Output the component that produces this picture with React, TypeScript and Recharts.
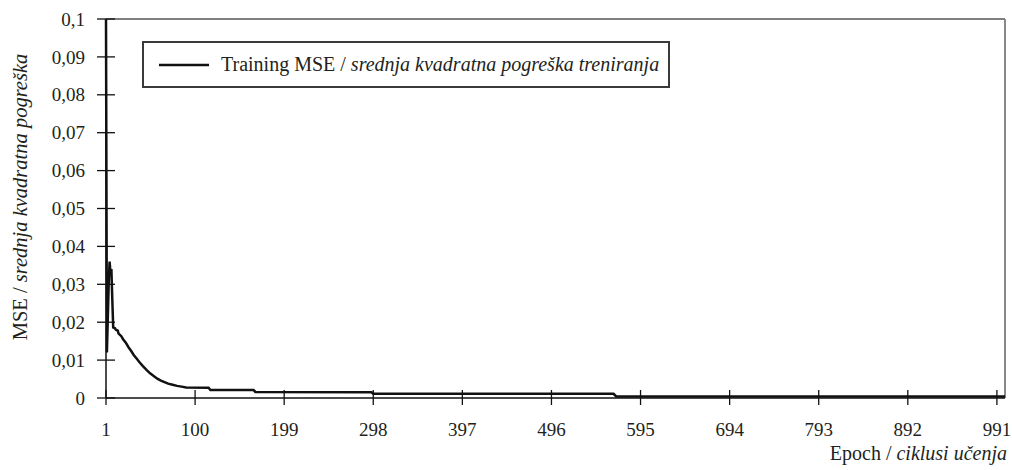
import React from "react";
import { LineChart, Line, XAxis, YAxis, ReferenceLine, Legend } from "recharts";

const epochs = [1, 2, 4, 5, 6, 7, 8, 9, 11, 12, 14, 15, 18, 20, 23, 26, 29, 32, 35, 38, 42, 46, 50, 54, 58, 62, 66, 70, 75, 80, 85, 90, 115, 117, 165, 167, 296, 298, 565, 568, 1000];
const mseValues = [0.1, 0.012, 0.03, 0.036, 0.033, 0.034, 0.026, 0.0186, 0.0184, 0.018, 0.0178, 0.017, 0.0163, 0.0155, 0.0146, 0.0134, 0.0124, 0.0113, 0.0104, 0.0095, 0.0084, 0.0074, 0.0065, 0.0058, 0.0051, 0.0046, 0.0042, 0.0038, 0.0035, 0.0032, 0.003, 0.0028, 0.0027, 0.0021, 0.0021, 0.0016, 0.0015, 0.0011, 0.0011, 0.0004, 0.0004];
const xTicks = [1, 100, 199, 298, 397, 496, 595, 694, 793, 892, 991];
const yTicks = [0, 0.01, 0.02, 0.03, 0.04, 0.05, 0.06, 0.07, 0.08, 0.09, 0.1];
const seriesName = "Training MSE / ";
const seriesNameItalic = "srednja kvadratna pogreška treniranja";
const xTitle = "Epoch / ";
const xTitleItalic = "ciklusi učenja";
const yTitle = "MSE / ";
const yTitleItalic = "srednja kvadratna pogreška";

const data = epochs.map((e, i) => ({ epoch: e, mse: mseValues[i] }));

const FONT = "'Liberation Serif', 'Times New Roman', serif";
const TXT = "#231f20";

const fmtY = (v: number) => String(Math.round(v * 100) / 100).replace(".", ",");

const YTick = (props: any) => {
  const { x, y, payload } = props;
  return (
    <g>
      <line x1={x - 9} x2={x + 9} y1={y} y2={y} stroke="#111" strokeWidth={1.3} />
      <text x={x - 21} y={y} dy="0.35em" textAnchor="end" fontSize={19} fontFamily={FONT} fill={TXT}>
        {fmtY(payload.value)}
      </text>
    </g>
  );
};

const XTick = (props: any) => {
  const { x, y, payload } = props;
  return (
    <g>
      <line x1={x} x2={x} y1={y - 8} y2={y + 7} stroke="#111" strokeWidth={1.3} />
      <text x={x} y={y + 38} textAnchor="middle" fontSize={19} fontFamily={FONT} fill={TXT}>
        {payload.value}
      </text>
    </g>
  );
};

const XTitle = (props: any) => {
  const vb = props.viewBox || {};
  return (
    <text x={vb.x + vb.width + 2} y={vb.y + 62} textAnchor="end" fontSize={20} fontFamily={FONT} fill={TXT}>
      {xTitle}
      <tspan fontStyle="italic">{xTitleItalic}</tspan>
    </text>
  );
};

const YTitle = () => {
  const cx = 20;
  const cy = 197;
  return (
    <text x={cx} y={cy} transform={`rotate(-90 ${cx} ${cy})`} textAnchor="middle" dy="0.35em" fontSize={20.5} fontFamily={FONT} fill={TXT}>
      {yTitle}
      <tspan fontStyle="italic">{yTitleItalic}</tspan>
    </text>
  );
};

const LegendBox = () => (
  <div
    style={{
      boxSizing: "border-box",
      height: 47,
      border: "2px solid #3a3a3a",
      display: "flex",
      alignItems: "center",
      paddingLeft: 15,
      paddingRight: 9,
      background: "#fff",
      fontFamily: FONT,
      fontSize: 20,
      color: TXT,
      whiteSpace: "nowrap",
    }}
  >
    <svg width={50} height={6} style={{ marginRight: 12 }}>
      <line x1={0} x2={50} y1={3} y2={3} stroke="#111" strokeWidth={2.5} />
    </svg>
    <span>
      {seriesName}
      <i>{seriesNameItalic}</i>
    </span>
  </div>
);

export default function App() {
  return (
    <div style={{ position: "absolute", left: 0, top: 0, background: "#fff" }}>
      <LineChart width={1012} height={470} data={data} margin={{ top: 19, right: 7, bottom: 0, left: 0 }}>
        <XAxis
          dataKey="epoch"
          type="number"
          domain={[1, 1000]}
          ticks={xTicks}
          interval={0}
          height={72}
          tickSize={0}
          tickMargin={0}
          tick={<XTick />}
          axisLine={{ stroke: "#111", strokeWidth: 1.5 }}
          tickLine={false}
          label={<XTitle />}
        />
        <YAxis
          type="number"
          domain={[0, 0.1]}
          ticks={yTicks}
          interval={0}
          width={106}
          tickSize={0}
          tickMargin={0}
          tick={<YTick />}
          axisLine={{ stroke: "#111", strokeWidth: 1.5 }}
          tickLine={false}
          label={<YTitle />}
        />
        <ReferenceLine y={0.1} stroke="#555" strokeWidth={1.5} />
        <ReferenceLine x={1000} stroke="#888" strokeWidth={2} />
        <Legend
          layout="vertical"
          align="center"
          verticalAlign="middle"
          wrapperStyle={{ left: 142, top: 41, width: "auto" }}
          content={<LegendBox />}
        />
        <Line
          type="linear"
          dataKey="mse"
          stroke="#111"
          strokeWidth={2.5}
          dot={false}
          isAnimationActive={false}
        />
      </LineChart>
    </div>
  );
}
